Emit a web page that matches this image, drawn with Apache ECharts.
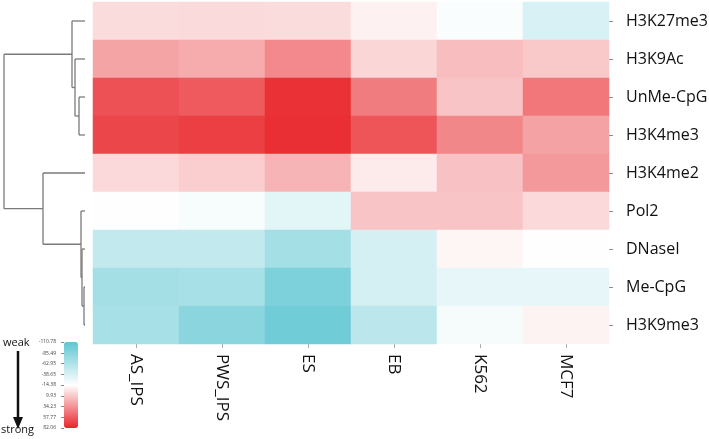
<!DOCTYPE html>
<html>
<head>
<meta charset="utf-8">
<script src="https://cdn.jsdelivr.net/npm/echarts@6/dist/echarts.min.js"></script>
<style>html,body{margin:0;padding:0;background:#fff}#c{width:709px;height:439px}</style>
</head>
<body>
<div id="c"></div>
<script>
// ---- data ----
const columns = ['AS_IPS', 'PWS_IPS', 'ES', 'EB', 'K562', 'MCF7'];
const rows = ['H3K27me3', 'H3K9Ac', 'UnMe-CpG', 'H3K4me3', 'H3K4me2', 'Pol2', 'DNaseI', 'Me-CpG', 'H3K9me3'];
const valH3K27me3 = [1, 2, 1, -8, -18, -38];
const valH3K9Ac   = [26, 23, 38, 4, 15, 10];
const valUnMeCpG  = [63, 59, 77, 44, 12, 46];
const valH3K4me3  = [68, 71, 78, 61, 39, 27];
const valH3K4me2  = [3, 8, 19, -5, 13, 31];
const valPol2     = [-14, -19, -32, 12, 12, 3];
const valDNaseI   = [-51, -51, -68, -40, -10, -14];
const valMeCpG    = [-69, -67, -92, -40, -29, -29];
const valH3K9me3  = [-67, -84, -100, -55, -20, -9];
// dendrogram linkage: [childA, childB, height]; ids >= rows.length are earlier merges
const linkage = [
  [7, 8, 1],
  [6, 9, 3],
  [5, 10, 4],
  [2, 3, 6],
  [1, 12, 10],
  [0, 13, 13],
  [4, 11, 42],
  [14, 15, 81]
];
const legendTicks = [-110.78, -85.49, -62.95, -38.65, -14.38, 9.93, 34.23, 57.77, 82.06];
const colorMin = -110.78, colorMax = 82.06;

// ---- build ----
const matrix = [valH3K27me3, valH3K9Ac, valUnMeCpG, valH3K4me3, valH3K4me2, valPol2, valDNaseI, valMeCpG, valH3K9me3];
const heatData = [];
matrix.forEach((r, yi) => r.forEach((v, xi) => heatData.push([xi, yi, v])));

const nodes = rows.map((_, i) => ({ y: i, h: 0 }));
const segs = [];
linkage.forEach(([a, b, h]) => {
  const A = nodes[a], B = nodes[b];
  segs.push([A.h, A.y, h, A.y]);
  segs.push([h, A.y, h, B.y]);
  segs.push([B.h, B.y, h, B.y]);
  nodes.push({ y: (A.y + B.y) / 2, h: h });
});

const font = '"Open Sans", "DejaVu Sans", sans-serif';
const chart = echarts.init(document.getElementById('c'));
chart.setOption({
  animation: false,
  backgroundColor: '#fff',
  grid: [
    { left: 93, width: 516, top: 2, height: 342, outerBoundsMode: 'none', containLabel: false },
    { left: 4, width: 81, top: 2, height: 342, outerBoundsMode: 'none', containLabel: false },
    { left: 64, width: 14, top: 342, height: 86, outerBoundsMode: 'none', containLabel: false }
  ],
  xAxis: [
    { gridIndex: 0, type: 'category', data: columns, position: 'bottom',
      axisLine: { show: false },
      axisTick: { show: true, alignWithLabel: true, length: 4, lineStyle: { color: '#aaa' } },
      axisLabel: { rotate: -90, margin: 10, fontSize: 17, color: '#111', fontFamily: font },
      splitLine: { show: false } },
    { gridIndex: 1, type: 'value', min: 0, max: 81, inverse: true, show: false },
    { gridIndex: 2, type: 'value', min: 0, max: 1, show: false }
  ],
  yAxis: [
    { gridIndex: 0, type: 'category', data: rows, inverse: true, position: 'right',
      axisLine: { show: false },
      axisTick: { show: true, alignWithLabel: true, length: 4, lineStyle: { color: '#888' } },
      axisLabel: { margin: 17, fontSize: 16, color: '#111', fontFamily: font },
      splitLine: { show: false } },
    { gridIndex: 1, type: 'value', min: -0.5, max: 8.5, inverse: true, show: false },
    { gridIndex: 2, type: 'value', min: colorMin, max: colorMax, inverse: true, position: 'left', offset: 6,
      axisLine: { show: false },
      splitLine: { show: false },
      axisTick: { show: true, length: 3, customValues: legendTicks, lineStyle: { color: '#888' } },
      axisLabel: { fontSize: 5, margin: 2, color: '#444', fontFamily: font,
        customValues: legendTicks, formatter: v => v.toFixed(2) } }
  ],
  visualMap: {
    type: 'continuous', min: colorMin, max: colorMax, inverse: true,
    seriesIndex: 0, calculable: false, text: null, padding: 0,
    left: 64, top: 342, itemWidth: 14, itemHeight: 86,
    inRange: { color: ['#5EC6D2', '#ffffff', '#E8262B'] }
  },
  series: [
    { type: 'heatmap', xAxisIndex: 0, yAxisIndex: 0, data: heatData,
      itemStyle: { borderWidth: 0 }, emphasis: { disabled: true } },
    { type: 'custom', xAxisIndex: 1, yAxisIndex: 1, data: segs, silent: true,
      renderItem: (params, api) => {
        const p1 = api.coord([api.value(0), api.value(1)]);
        const p2 = api.coord([api.value(2), api.value(3)]);
        return { type: 'line', shape: { x1: p1[0], y1: p1[1], x2: p2[0], y2: p2[1] },
          style: { stroke: '#7a7a7a', lineWidth: 1.3 } };
      } }
  ],
  graphic: [
    { type: 'text', left: 3, top: 337, style: { text: 'weak', fontSize: 11, fill: '#111', fontFamily: font } },
    { type: 'text', left: 1, top: 424, style: { text: 'strong', fontSize: 11, fill: '#111', fontFamily: font } },
    { type: 'line', shape: { x1: 18, y1: 351, x2: 18, y2: 420 }, style: { stroke: '#111', lineWidth: 2.5 } },
    { type: 'polygon', shape: { points: [[13, 417], [23, 417], [18, 429]] }, style: { fill: '#111' } }
  ]
});
</script>
</body>
</html>
